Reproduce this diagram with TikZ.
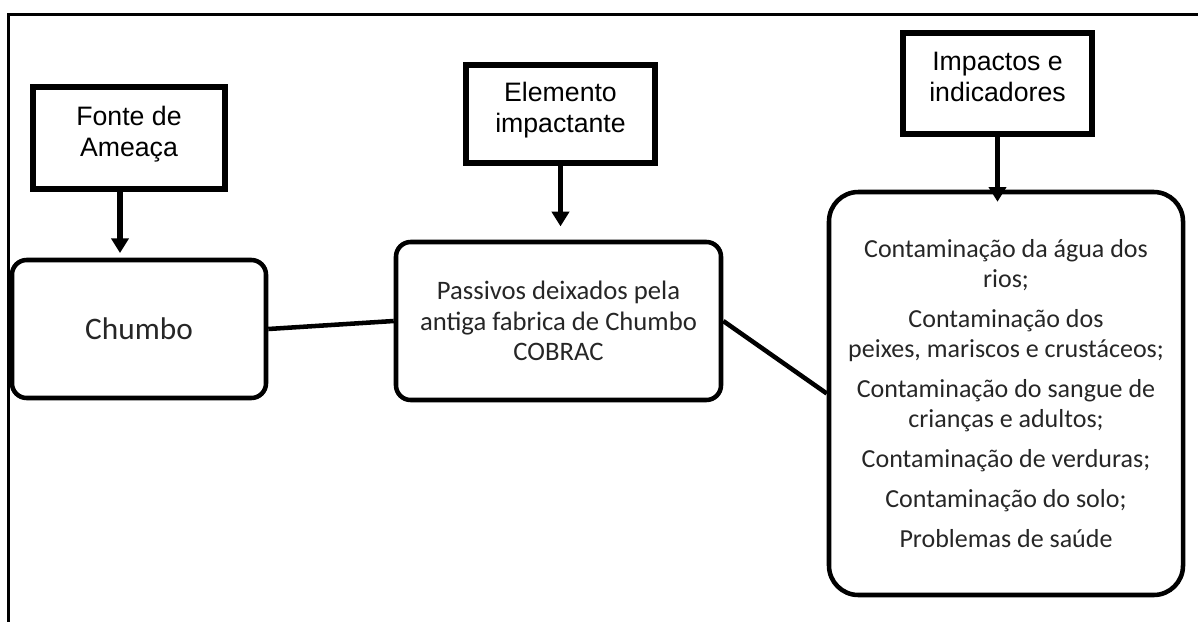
\documentclass[tikz,border=0pt]{standalone}
\usepackage{fontspec}
\setmainfont{Liberation Sans}
\newfontfamily\calibri{Carlito}
\usetikzlibrary{arrows.meta}
\begin{document}
\begin{tikzpicture}[x=0.75pt,y=-0.75pt,
head/.style={draw,line width=4.5pt,align=center,font=\fontsize{20}{23}\selectfont},
item/.style={draw,line width=3.4pt,rounded corners=11pt,align=center,text=black!85,
    font=\calibri\fontsize{19.5}{22.5}\selectfont},
link/.style={line width=3.4pt},
down/.style={line width=4.2pt,-{Triangle[width=12.75pt,length=11pt]}}]
\useasboundingbox (0,0) rectangle (1198,621);
\draw[line width=2.25pt] (1198,14) -- (8,14) -- (8,625);
\node[head,minimum width=144pt,minimum height=76.5pt] (fonte) at (129,138) {Fonte de\\Ameaça\\[-13pt]\mbox{}};
\node[head,minimum width=141.75pt,minimum height=73.5pt] (elem) at (560.5,114) {Elemento\\impactante\\[-13pt]\mbox{}};
\node[head,minimum width=141.75pt,minimum height=75.75pt] (impact) at (997.5,83.5) {Impactos e\\indicadores\\[-13pt]\mbox{}};
\node[item,minimum width=190.5pt,minimum height=103.5pt,font=\calibri\fontsize{23.5}{27}\selectfont] (chumbo) at (139,329) {Chumbo};
\node[item,minimum width=243.75pt,minimum height=118.5pt,font=\calibri\fontsize{20}{23}\selectfont] (passivos) at (558.5,321)
    {Passivos deixados pela\\antiga fabrica de Chumbo\\COBRAC};
\node[item,minimum width=265.5pt,minimum height=302.25pt,rounded corners=22pt] (efeitos) at (1006,393.5)
    {Contaminação da água dos\\rios;\\[7.5pt]
     Contaminação dos\\peixes, mariscos e crustáceos;\\[7.5pt]
     Contaminação do sangue de\\crianças e adultos;\\[7.5pt]
     Contaminação de verduras;\\[7.5pt]
     Contaminação do solo;\\[7.5pt]
     Problemas de saúde};
% ligacoes
\draw[link] (chumbo.east) -- (passivos.west);
\draw[link] (passivos.east) -- (efeitos.west);
\draw[down,shorten >=3.5pt] ([xshift=-6.75pt]fonte.south) -- ([xshift=-6.75pt]fonte.south |- chumbo.north);
\draw[down,shorten >=10pt] (elem.south) -- (elem.south |- passivos.north);
\draw[down,shorten >=-9pt] (impact.south) -- (impact.south |- efeitos.north);
\end{tikzpicture}
\end{document}
